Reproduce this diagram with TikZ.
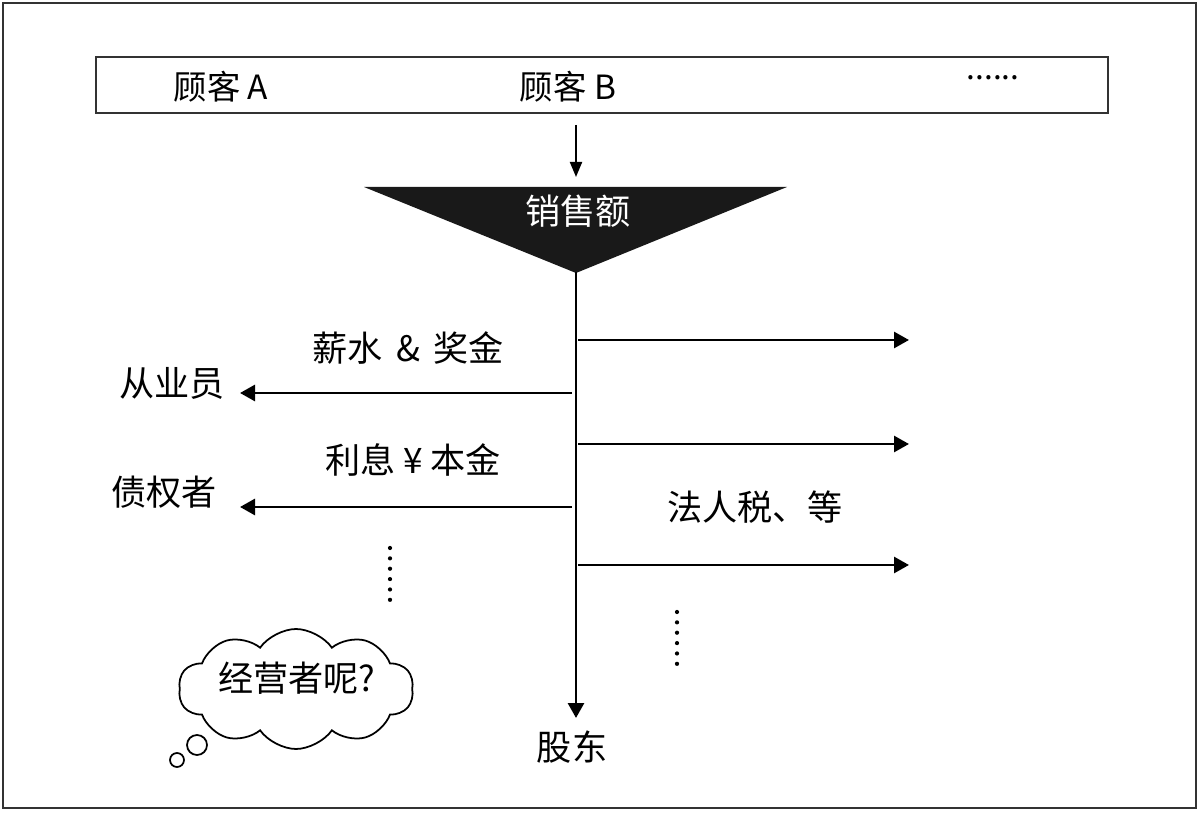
\documentclass[tikz,border=0pt]{standalone}
\usepackage{fontspec}
\setmainfont{Noto Sans CJK SC}
\usetikzlibrary{shapes.symbols, arrows.meta}
\tikzstyle{frame} = [draw=black!80, line width=1.1pt]
\tikzstyle{label} = [font=\fontsize{20}{24}\selectfont, inner sep=1pt]
\tikzstyle{flow} = [line width=1.6pt, ->, >={Triangle[length=0.3cm, width=0.32cm]}]
\tikzstyle{dots} = [line width=2.4pt, line cap=round, dash pattern=on 0pt off 5.9pt]
\tikzstyle{thought} = [cloud, cloud puffs=10, cloud puff arc=110, aspect=2, draw, line width=1pt, minimum width=4.7cm, minimum height=2.4cm]

\begin{document}
\begin{tikzpicture}[x=0.02cm, y=-0.02cm]
		\useasboundingbox (0,0) rectangle (1200,813);
		\draw[frame] (3,3) rectangle (1196,808);
		% customers
		\draw[frame] (96,57) rectangle (1108,113);
		\node(custA) [label, font=\fontsize{19}{23}\selectfont] at (221,87) {顾客 A};
		\node(custB) [label, font=\fontsize{19}{23}\selectfont] at (568,87) {顾客 B};
		\node(custmore) [label, font=\fontsize{18}{20}\selectfont] at (993,78) {......};
		\coordinate(inflow) at (576,125);
		\coordinate(intop) at (576,177);
		\draw [line width=1.1pt, ->, >={Triangle[length=0.3cm, width=0.24cm]}] (inflow) -- (intop);
		% sales
		\fill[black!90] (364,187) -- (787,187) -- (576,273) -- cycle;
		\node(sales) [label, text=white] at (578,211) {销售额};
		\coordinate(apex) at (576,272);
		\coordinate(trunkend) at (576,718);
		\node(owners) [label] at (572,747) {股东};
		\draw [flow] (apex) -- (trunkend);
		% left side
		\node(staff) [label] at (172,383) {从业员};
		\node(wages) [label] at (408,348) {薪水 \,\&\, 奖金};
		\node(lenders) [label] at (164,492) {债权者};
		\node(interest) [label] at (413,460) {利息 ¥ 本金};
		\coordinate(s1) at (572,393);
		\coordinate(e1) at (240,393);
		\coordinate(s2) at (572,507);
		\coordinate(e2) at (240,507);
		\draw [flow] (s1) -- (e1);
		\draw [flow] (s2) -- (e2);
		\draw [dots] (390,548) -- (390,600);
		% right side
		\coordinate(r1) at (578,340);
		\coordinate(q1) at (909,340);
		\coordinate(r2) at (578,444);
		\coordinate(q2) at (909,444);
		\coordinate(r3) at (578,565);
		\coordinate(q3) at (909,565);
		\draw [flow] (r1) -- (q1);
		\draw [flow] (r2) -- (q2);
		\draw [flow] (r3) -- (q3);
		\node(tax) [label] at (755,507) {法人税、等};
		\draw [dots] (677,612) -- (677,664);
		% manager
		\node(cloud) [thought] at (296,689) {};
		\node(manager) [label] at (297,678) {经营者呢?};
		\draw [line width=1pt] (197,745) circle (10);
		\draw [line width=1pt] (177,760) circle (7);
	\end{tikzpicture}
\end{document}
